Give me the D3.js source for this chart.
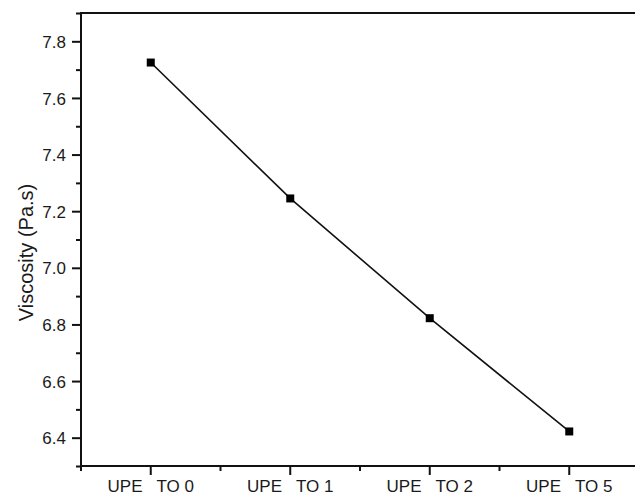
<!DOCTYPE html>
<html>
<head>
<meta charset="utf-8">
<script src="https://cdn.jsdelivr.net/npm/d3@7"></script>
<style>
  body { margin: 0; background: #fff; }
  svg text { font-family: "Liberation Sans", Arial, sans-serif; fill: #1a1a1a; }
</style>
</head>
<body>
<div id="chart"></div>
<script>
// Data
const categories = ["UPE   TO 0", "UPE   TO 1", "UPE   TO 2", "UPE   TO 5"];
const viscosity = [7.725, 7.245, 6.822, 6.422];
const yTicks = [6.4, 6.6, 6.8, 7.0, 7.2, 7.4, 7.6, 7.8];

const width = 635;
const height = 496;
const margin = { top: 13, left: 81, bottom: 30 };

const svg = d3.select("#chart")
    .append("svg")
    .attr("width", width)
    .attr("height", height);

// x is positional: categories sit at 0..3, axis runs from -0.5
const xScale = d3.scaleLinear()
    .domain([-0.5, 3.5])
    .range([margin.left, margin.left + 558]);

const yScale = d3.scaleLinear()
    .domain([6.3, 7.9])
    .range([height - margin.bottom, margin.top]);

const y0 = yScale.range()[0];

// Y axis with minor ticks
const yAxis = svg.append("g")
    .attr("transform", `translate(${margin.left},0)`);
yAxis.call(d3.axisLeft(yScale)
    .tickValues(d3.range(6.3, 7.91, 0.1).map(v => +v.toFixed(1)))
    .tickSize(0)
    .tickFormat(""));
yAxis.select(".domain").remove();
yAxis.selectAll(".tick line")
    .attr("x2", d => yTicks.includes(d) ? -9 : -5)
    .attr("stroke", "#111")
    .attr("stroke-width", 2);
yAxis.selectAll(".tick text")
    .text(d => yTicks.includes(d) ? d.toFixed(1) : "")
    .attr("x", -15)
    .attr("dy", "0.36em")
    .attr("font-size", null)
    .style("font-size", "17px");
yAxis.append("line")
    .attr("y1", margin.top - 1)
    .attr("y2", y0 + 1)
    .attr("stroke", "#111")
    .attr("stroke-width", 2);

// X axis with minor ticks between categories
const xAxis = svg.append("g")
    .attr("transform", `translate(0,${y0})`);
const xMajor = d3.range(categories.length);
const xMinor = xMajor.map(i => i - 0.5).concat([3.5]);
xAxis.selectAll(".minor")
    .data(xMinor)
    .enter()
    .append("line")
    .attr("x1", d => xScale(d))
    .attr("x2", d => xScale(d))
    .attr("y2", 5)
    .attr("stroke", "#111")
    .attr("stroke-width", 2);
xAxis.selectAll(".major")
    .data(xMajor)
    .enter()
    .append("line")
    .attr("x1", d => xScale(d))
    .attr("x2", d => xScale(d))
    .attr("y2", 9)
    .attr("stroke", "#111")
    .attr("stroke-width", 2);
xAxis.selectAll(".label")
    .data(xMajor)
    .enter()
    .append("text")
    .attr("x", d => xScale(d))
    .attr("y", 26)
    .attr("text-anchor", "middle")
    .attr("xml:space", "preserve")
    .style("white-space", "pre")
    .style("font-size", "17px")
    .text(d => categories[d]);
xAxis.append("line")
    .attr("x1", margin.left - 1)
    .attr("x2", width)
    .attr("stroke", "#111")
    .attr("stroke-width", 2);

// Top frame line
svg.append("line")
    .attr("x1", margin.left - 1)
    .attr("x2", width)
    .attr("y1", margin.top)
    .attr("y2", margin.top)
    .attr("stroke", "#111")
    .attr("stroke-width", 2);

// Y title
svg.append("text")
    .attr("transform", `translate(33,${(margin.top + y0) / 2 + 13}) rotate(-90)`)
    .attr("text-anchor", "middle")
    .style("font-size", "20px")
    .text("Viscosity (Pa.s)");

// Line and markers
const line = d3.line()
    .x((d, i) => xScale(i))
    .y(d => yScale(d));

svg.append("path")
    .datum(viscosity)
    .attr("fill", "none")
    .attr("stroke", "#111")
    .attr("stroke-width", 1.6)
    .attr("d", line);

svg.selectAll(".pt")
    .data(viscosity)
    .enter()
    .append("rect")
    .attr("x", (d, i) => xScale(i) - 4)
    .attr("y", d => yScale(d) - 4)
    .attr("width", 8)
    .attr("height", 8)
    .attr("fill", "#000");
</script>
</body>
</html>
